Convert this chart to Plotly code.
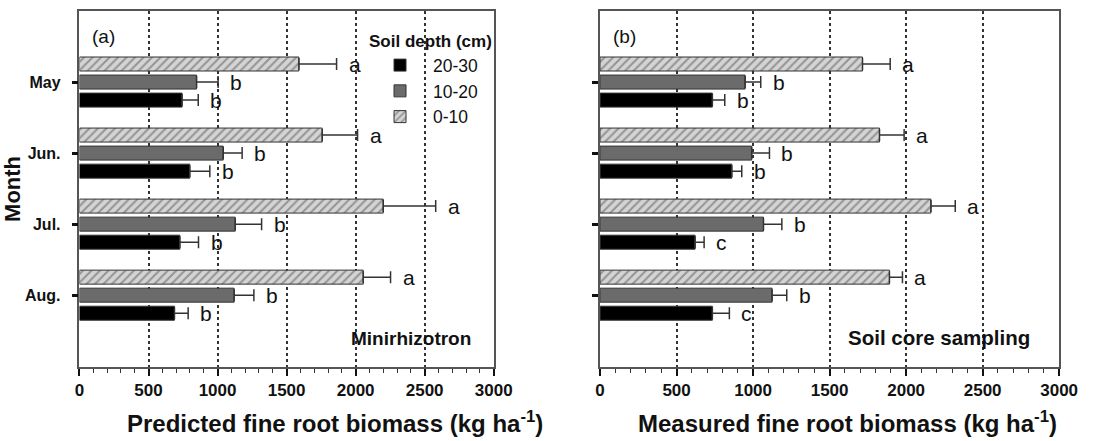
import plotly.graph_objects as go

months = ["May", "Jun.", "Jul.", "Aug."]
depths = ["20-30", "10-20", "0-10"]

# Panel (a): Minirhizotron predicted biomass (kg ha-1)
pred_mean = {
    "0-10":  [1589, 1758, 2200, 2055],
    "10-20": [848, 1041, 1128, 1120],
    "20-30": [743, 799, 727, 688],
}
pred_err = {
    "0-10":  [273, 256, 380, 198],
    "10-20": [156, 137, 191, 143],
    "20-30": [117, 145, 135, 99],
}
pred_letters = {
    "0-10":  ["a", "a", "a", "a"],
    "10-20": ["b", "b", "b", "b"],
    "20-30": ["b", "b", "b", "b"],
}

# Panel (b): Soil core sampling measured biomass (kg ha-1)
meas_mean = {
    "0-10":  [1715, 1826, 2162, 1891],
    "10-20": [948, 991, 1068, 1124],
    "20-30": [734, 861, 621, 734],
}
meas_err = {
    "0-10":  [181, 161, 159, 85],
    "10-20": [102, 116, 120, 96],
    "20-30": [81, 65, 59, 111],
}
meas_letters = {
    "0-10":  ["a", "a", "a", "a"],
    "10-20": ["b", "b", "b", "b"],
    "20-30": ["b", "b", "c", "c"],
}

x_ticks = [0, 500, 1000, 1500, 2000, 2500, 3000]

FONT = "Liberation Sans, Arial, sans-serif"
styles = {
    "20-30": dict(color="#000000", pattern=None),
    "10-20": dict(color="#6b6b6b", pattern=None),
    "0-10": dict(color="#d4d4d4",
                 pattern=dict(shape="/", fgcolor="#555555", bgcolor="#d4d4d4",
                              size=6, solidity=0.35)),
}

# categories bottom-to-top so May is on top
cat_order = months[::-1]

fig = go.Figure()

panels = [
    (pred_mean, pred_err, pred_letters, "x", "y", True),
    (meas_mean, meas_err, meas_letters, "x2", "y2", False),
]

for mean, err, letters, xa, ya, show in panels:
    for d in depths:
        st = styles[d]
        marker = dict(color=st["color"], line=dict(color="#333333", width=1))
        if st["pattern"]:
            marker["pattern"] = st["pattern"]
        fig.add_trace(go.Bar(
            y=months, x=mean[d], orientation="h", name=d,
            marker=marker, showlegend=show, legendgroup=d,
            error_x=dict(type="data", array=err[d], arrayminus=[0] * len(err[d]),
                         symmetric=False, color="#333333", thickness=1.5, width=6),
            xaxis=xa, yaxis=ya,
        ))

# Letters next to error bars, offset matching grouped bar slots
slot = {"20-30": -0.254, "10-20": 0.0, "0-10": 0.254}
for mean, err, letters, xa, ya, show in panels:
    for d in depths:
        for i, m in enumerate(months):
            yi = cat_order.index(m) + slot[d]
            fig.add_annotation(
                x=mean[d][i] + err[d][i], y=yi, xref=xa, yref=ya,
                text=letters[d][i], showarrow=False, xanchor="left", xshift=10,
                font=dict(family=FONT, size=21, color="#111111"),
            )

axis_common = dict(
    range=[0, 3000], tickvals=x_ticks, ticks="outside", ticklen=7, tickwidth=2,
    tickcolor="#111111", showline=True, linecolor="#555555", linewidth=1.5,
    mirror=True, showgrid=True, gridcolor="#333333", griddash="dot", gridwidth=1.5,
    zeroline=False, automargin=False,
    tickfont=dict(family=FONT, size=17, color="#111111", weight="bold"),
    minor=dict(dtick=100, ticks="outside", ticklen=4, tickwidth=1, tickcolor="#333333",
               showgrid=False),
)
yaxis_common = dict(
    type="category", categoryorder="array", categoryarray=cat_order,
    range=[-1.01, 4.0], ticks="outside", ticklen=6, tickwidth=2.5,
    tickcolor="#111111", showline=True, linecolor="#555555", linewidth=1.5,
    mirror=True, showgrid=False, zeroline=False, automargin=False,
    tickfont=dict(family=FONT, size=16, color="#111111", weight="bold"),
    ticklabelstandoff=8,
)

fig.update_layout(
    width=1101, height=441,
    margin=dict(l=0, r=0, t=0, b=0, autoexpand=False),
    paper_bgcolor="white", plot_bgcolor="white",
    barmode="group", bargap=0.238, bargroupgap=0.224,
    font=dict(family=FONT, color="#111111"),
    xaxis=dict(domain=[0.0722, 0.4484], anchor="y", **axis_common),
    yaxis=dict(domain=[0.168, 0.975], anchor="x",
               title_text="Month", title_standoff=0,
               title_font=dict(family=FONT, size=22, color="#111111", weight="bold"),
               **yaxis_common),
    xaxis2=dict(domain=[0.545, 0.962], anchor="y2", **axis_common),
    yaxis2=dict(domain=[0.168, 0.975], anchor="x2", showticklabels=False, **yaxis_common),
    legend=dict(
        x=0.4487, y=0.943, xanchor="right", yanchor="top",
        bgcolor="rgba(0,0,0,0)", borderwidth=0,
        title=dict(text="Soil depth (cm)", side="top",
                   font=dict(family=FONT, size=17, color="#111111", weight="bold")),
        font=dict(family=FONT, size=17.5, color="#111111"),
        itemwidth=56, tracegroupgap=0,
    ),
)

# x-axis titles (placed as in the original figure)
title_font = dict(family=FONT, size=24, color="#111111", weight="bold")
fig.add_annotation(x=334.5 / 1101, y=0.0, xref="paper", yref="paper", yshift=2,
                   text="Predicted fine root biomass (kg ha<sup>-1</sup>)",
                   showarrow=False, xanchor="center", yanchor="bottom", font=title_font)
fig.add_annotation(x=847 / 1101, y=0.0, xref="paper", yref="paper", yshift=2,
                   text="Measured fine root biomass (kg ha<sup>-1</sup>)",
                   showarrow=False, xanchor="center", yanchor="bottom", font=title_font)

# Panel labels and method labels
fig.add_annotation(x=0.0, y=1.0, xref="x domain", yref="y domain", xshift=11, yshift=-13,
                   text="(a)", showarrow=False, xanchor="left", yanchor="top",
                   font=dict(family=FONT, size=19, color="#111111"))
fig.add_annotation(x=0.0, y=1.0, xref="x2 domain", yref="y2 domain", xshift=11, yshift=-13,
                   text="(b)", showarrow=False, xanchor="left", yanchor="top",
                   font=dict(family=FONT, size=19, color="#111111"))
fig.add_annotation(x=1.0, y=0.0, xref="x domain", yref="y domain", xshift=-21, yshift=16,
                   text="Minirhizotron", showarrow=False, xanchor="right", yanchor="bottom",
                   font=dict(family=FONT, size=19, color="#111111", weight="bold"))
fig.add_annotation(x=1.0, y=0.0, xref="x2 domain", yref="y2 domain", xshift=-27, yshift=16,
                   text="Soil core sampling", showarrow=False, xanchor="right", yanchor="bottom",
                   font=dict(family=FONT, size=20.5, color="#111111", weight="bold"))

fig.write_html("out.html")
